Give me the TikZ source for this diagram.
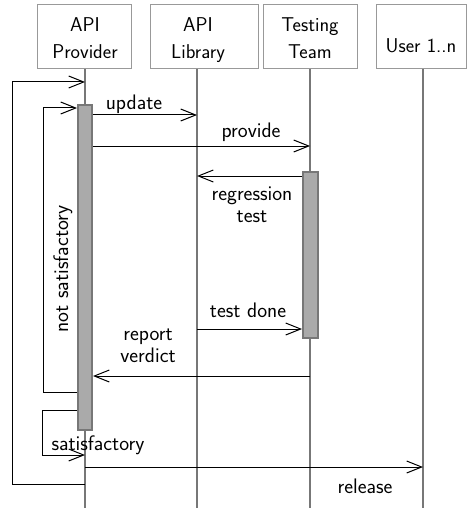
\documentclass[tikz,border=0pt]{standalone}
\usepackage{fontspec}
\usetikzlibrary{arrows.meta}
\definecolor{lifegray}{HTML}{777777}
\definecolor{boxgray}{HTML}{999999}
\definecolor{barfill}{HTML}{AAAAAA}
\begin{document}
\begin{tikzpicture}[x=1pt,y=-1pt,
  every node/.style={font=\sffamily\fontsize{21}{22}\selectfont, inner sep=0pt},
  headbox/.style={draw=boxgray, line width=1pt, rectangle},
  headtext/.style={anchor=base, align=center, font=\sffamily\fontsize{20}{27}\selectfont},
  lifeline/.style={draw=lifegray, line width=2pt},
  actbar/.style={fill=barfill, draw=lifegray, line width=2pt},
  msg/.style={draw=black, line width=1pt, -{Straight Barb[length=15pt,width=12pt,line width=1pt]}},
  loopline/.style={draw=black, line width=1pt},
  lbl/.style={anchor=base, align=center}]
\useasboundingbox (0,0) rectangle (466,508);
% header boxes
\node[headbox, minimum width=94pt, minimum height=64pt] (b1) at (84,37) {};
\node[headbox, minimum width=108pt, minimum height=64pt] (b2) at (204,37) {};
\node[headbox, minimum width=94pt, minimum height=64pt] (b3) at (310,37) {};
\node[headbox, minimum width=90pt, minimum height=64pt] (b4) at (421,37) {};
\node[headtext] (t1) at (85,59) {API\\Provider};
\node[headtext] (t2) at (198,59) {API\\Library};
\node[headtext] (t3) at (310,59) {Testing\\Team};
\node[headtext] (t4) at (421,53) {User 1..n};
% lifelines
\coordinate (e1) at (85,508);
\coordinate (e2) at (197,508);
\coordinate (e3) at (310,508);
\coordinate (e4) at (423,508);
\draw[lifeline] (b1.south -| e1) -- (e1);
\draw[lifeline] (b2.south -| e2) -- (e2);
\draw[lifeline] (b3.south -| e3) -- (e3);
\draw[lifeline] (b4.south -| e4) -- (e4);
% activation bars
\node[actbar, minimum width=14pt, minimum height=325pt, anchor=north] (a1) at (85,104) {};
\node[actbar, minimum width=15pt, minimum height=166pt, anchor=north] (a3) at (310.5,171) {};
% outer loop
\coordinate (o1) at (85,484);
\coordinate (o2) at (85,82);
\draw[loopline] (o1) -- (12,484) -- (12,82);
\draw[msg] (12,82) -- (o2);
% inner loop (not satisfactory)
\coordinate (n1) at (a1.west |- 0,392);
\coordinate (n2) at (a1.west |- 0,108);
\draw[loopline] (n1) -- (43,392) -- (43,108);
\draw[msg] (43,108) -- (n2);
\node[rotate=90, anchor=base] (ns) at (68,269) {not satisfactory};
% satisfactory loop
\coordinate (s1) at (a1.west |- 0,410);
\coordinate (s2) at (85,455);
\draw[loopline] (s1) -- (42,410) -- (42,455);
\draw[msg] (42,455) -- (s2);
\node[lbl] (sl) at (98,450) {satisfactory};
% messages
\coordinate (u1) at (a1.east |- 0,115);
\coordinate (u2) at (197,115);
\draw[msg] (u1) -- (u2);
\node[lbl] (ul) at (134,110) {update};
\coordinate (p1) at (a1.east |- 0,146);
\coordinate (p2) at (310,146);
\draw[msg] (p1) -- (p2);
\node[lbl] (pl) at (251,137) {provide};
\coordinate (r1) at (a3.west |- 0,176);
\coordinate (r2) at (197,176);
\draw[msg] (r1) -- (r2);
\node[lbl] (rl) at (252,222) {regression\\test};
\coordinate (d1) at (197,329);
\coordinate (d2) at (a3.west |- 0,329);
\draw[msg] (d1) -- (d2);
\node[lbl] (dl) at (248,317) {test done};
\coordinate (v1) at (310,376);
\coordinate (v2) at (a1.east |- 0,376);
\draw[msg] (v1) -- (v2);
\node[lbl] (vl) at (148,362) {report\\verdict};
\coordinate (x1) at (85,467);
\coordinate (x2) at (423,467);
\draw[msg] (x1) -- (x2);
\node[lbl] (xl) at (365,493) {release};
\end{tikzpicture}
\end{document}
